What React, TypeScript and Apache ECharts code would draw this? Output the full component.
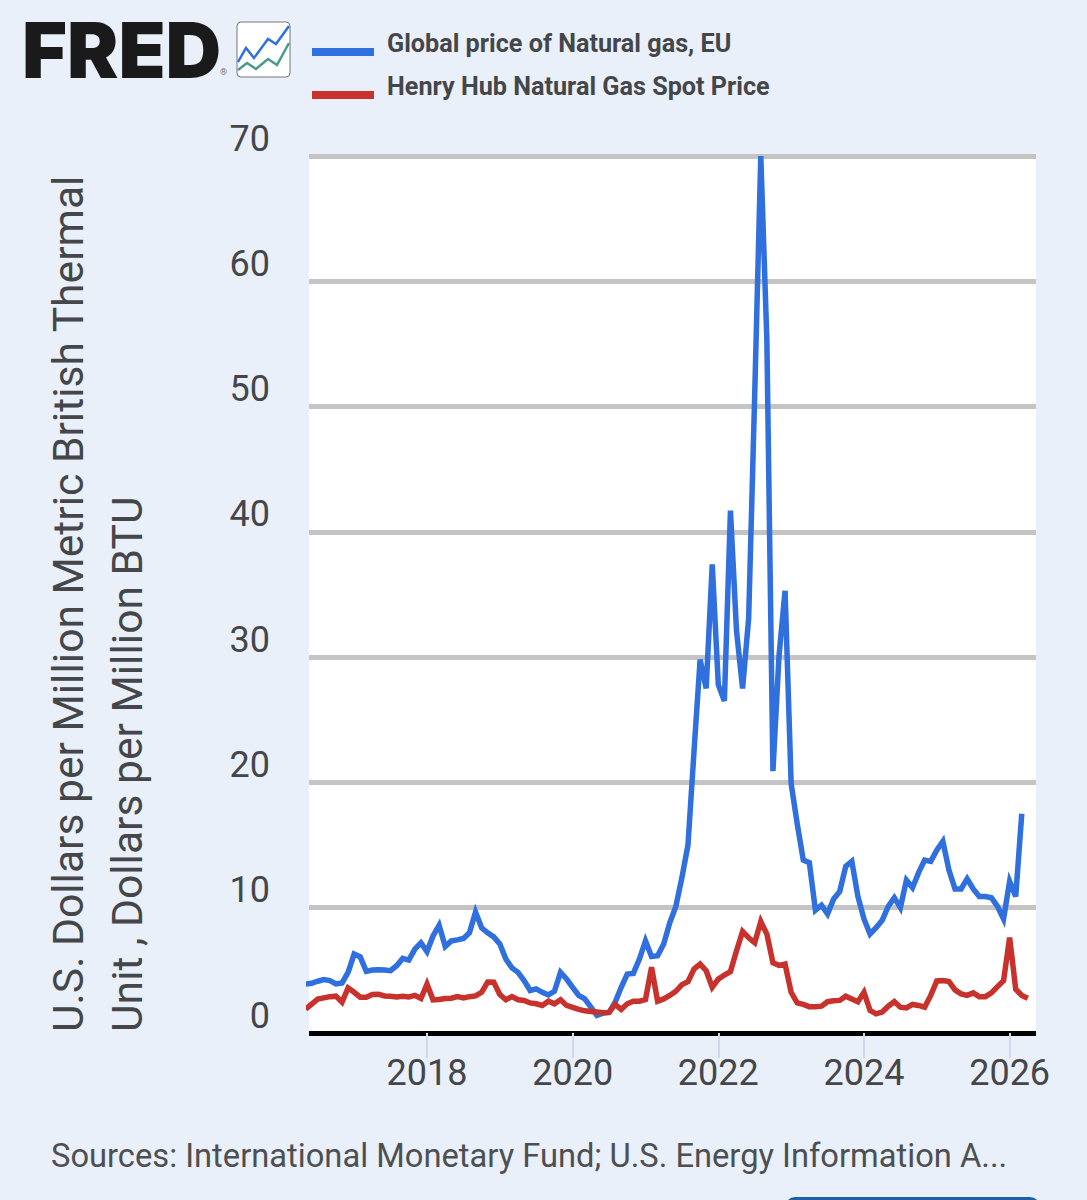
import React, { useEffect, useRef } from "react";
import * as echarts from "echarts";

const title = "FRED";
const blueName = "Global price of Natural gas, EU";
const redName = "Henry Hub Natural Gas Spot Price";
const yTitle1 = "U.S. Dollars per Million Metric British Thermal";
const yTitle2 = "Unit , Dollars per Million BTU";
const sourceText = "Sources: International Monetary Fund; U.S. Energy Information A...";
const tickYears = [2018, 2020, 2022, 2024, 2026];

// monthly values from May 2016
const blueValues = [
  3.9, 3.97, 4.13, 4.26, 4.18, 3.92, 4.0, 4.84,
  6.3, 6.08, 4.92, 5.03, 5.05, 5.03, 4.97, 5.37, 5.95, 5.82, 6.7, 7.2,
  6.5, 7.75, 8.6, 6.9, 7.35, 7.43, 7.54, 8.0, 9.65, 8.4, 8.0, 7.67,
  7.1, 5.9, 5.2, 4.84, 4.18, 3.39, 3.52, 3.25, 3.04, 3.33, 4.84, 4.31,
  3.65, 3.0, 2.72, 2.06, 1.4, 1.59, 1.64, 2.46, 3.65, 4.7, 4.76, 5.9,
  7.35, 6.1, 6.16, 7.1, 8.8, 10.1, 12.4, 15.0, 22.5, 29.8, 27.5, 37.4,
  27.8, 26.5, 41.7, 32.1, 27.5, 33.1, 51.0, 70.0, 55.3, 20.9, 30.1, 35.3,
  19.9, 16.7, 13.8, 13.6, 9.8, 10.2, 9.5, 10.7, 11.3, 13.3, 13.7, 10.9,
  9.1, 7.9, 8.4, 9.0, 10.1, 10.8, 10.0, 12.2, 11.6, 12.8, 13.8, 13.7,
  14.6, 15.3, 13.0, 11.5, 11.5, 12.3, 11.5, 10.9, 10.9, 10.8, 10.1, 9.1,
  12.1, 10.9, 17.5,
];
const redValues = [
  1.9, 2.3, 2.7, 2.8, 2.9, 2.94, 2.46, 3.6,
  3.25, 2.86, 2.86, 3.07, 3.1, 2.96, 2.94, 2.88, 2.94, 2.88, 3.0, 2.75,
  3.9, 2.65, 2.67, 2.75, 2.78, 2.9, 2.8, 2.9, 2.96, 3.25, 4.07, 4.05,
  3.07, 2.65, 2.9, 2.65, 2.6, 2.4, 2.33, 2.2, 2.54, 2.33, 2.65, 2.2,
  2.04, 1.88, 1.77, 1.72, 1.67, 1.61, 1.64, 2.28, 1.88, 2.33, 2.54, 2.54,
  2.67, 5.24, 2.54, 2.72, 3.0, 3.33, 3.86, 4.1, 5.1, 5.5, 4.97, 3.65,
  4.3, 4.63, 4.9, 6.56, 8.1, 7.6, 7.2, 8.9, 7.9, 5.6, 5.4, 5.5,
  3.25, 2.4, 2.28, 2.1, 2.1, 2.14, 2.5, 2.57, 2.6, 2.94, 2.72, 2.5,
  3.25, 1.8, 1.53, 1.67, 2.14, 2.5, 2.06, 2.0, 2.28, 2.2, 2.06, 3.0,
  4.15, 4.18, 4.1, 3.44, 3.12, 3.0, 3.2, 2.9, 2.9, 3.2, 3.7, 4.18,
  7.62, 3.5, 3.0, 2.78,
];

const startYear = 2016;
const startMonth = 4; // May
const toSeries = (values: number[]) =>
  values.map((v, i) => [startYear + (startMonth + i) / 12, v]);

const TEXT = "#444649";
const BLUE = "#2f6fde";
const RED = "#c8322d";
const LEGEND_ICON = "path://M0,0h62v0.01h-62z M0,18h62v8h-62z";

export default function App() {
  const ref = useRef<HTMLDivElement>(null);
  useEffect(() => {
    const chart = echarts.init(ref.current!, undefined, { renderer: "svg" });
    chart.setOption({
      animation: false,
      backgroundColor: "#e9f0f9",
      textStyle: { fontFamily: "Roboto" },
      legend: {
        orient: "vertical",
        left: 307,
        top: 25,
        itemWidth: 62,
        itemHeight: 26,
        itemGap: 17,
        icon: LEGEND_ICON,
        selectedMode: false,
        data: [blueName, redName],
        textStyle: {
          color: TEXT,
          fontFamily: "Roboto",
          fontWeight: 700,
          fontSize: 25.2,
          padding: [0, 0, 0, 8],
        },
      },
      grid: {
        show: true,
        backgroundColor: "#ffffff",
        borderWidth: 0,
        left: 309,
        width: 727,
        top: 156,
        height: 877,
      },
      xAxis: {
        type: "value",
        min: 2016.38,
        max: 2026.362,
        splitLine: { show: false },
        axisLine: { show: true, onZero: false, lineStyle: { color: "#000000", width: 5, cap: "butt" } },
        axisTick: {
          show: true,
          customValues: tickYears,
          length: 25,
          lineStyle: { color: "#d0d9e8", width: 2 },
        },
        axisLabel: {
          customValues: tickYears,
          hideOverlap: false,
          margin: 22,
          fontSize: 36,
          color: TEXT,
          fontFamily: "Roboto",
          formatter: (v: number) => String(v),
        },
      },
      yAxis: {
        type: "value",
        min: 0,
        max: 70,
        interval: 10,
        axisLine: { show: false },
        axisTick: { show: false },
        splitLine: { show: true, lineStyle: { color: "#c4c4c4", width: 5 } },
        axisLabel: {
          margin: 39,
          fontSize: 36,
          lineHeight: 35,
          color: TEXT,
          fontFamily: "Roboto",
          verticalAlign: "bottom",
          formatter: (v: number) => String(v),
        },
      },
      series: [
        {
          name: blueName,
          type: "line",
          data: toSeries(blueValues),
          showSymbol: false,
          symbol: "none",
          itemStyle: { color: BLUE },
          lineStyle: { color: BLUE, width: 5.5, join: "miter", miterLimit: 4, cap: "butt" },
        },
        {
          name: redName,
          type: "line",
          data: toSeries(redValues),
          showSymbol: false,
          symbol: "none",
          itemStyle: { color: RED },
          lineStyle: { color: RED, width: 5.5, join: "miter", miterLimit: 4, cap: "butt" },
        },
      ],
      graphic: [
        {
          type: "text",
          x: 22,
          y: 50,
          style: {
            text: title,
            font: "900 77px Inter",
            fill: "#1a1a1a",
            textVerticalAlign: "middle",
          },
        },
        {
          type: "text",
          x: 220,
          y: 72,
          style: { text: "®", font: "9px Roboto", fill: "#777777", textVerticalAlign: "middle" },
        },
        {
          type: "rect",
          shape: { x: 237, y: 22, width: 53, height: 55, r: 4 },
          style: { fill: "#ffffff", stroke: "#777777", lineWidth: 1 },
        },
        {
          type: "polyline",
          shape: { points: [[238, 62], [246, 48], [254, 58], [268, 39], [276, 44], [289, 26]] },
          style: { stroke: "#2f6fde", lineWidth: 2.5, fill: "none" },
        },
        {
          type: "polyline",
          shape: { points: [[238, 70], [247, 63], [256, 69], [268, 59], [277, 65], [289, 43]] },
          style: { stroke: "#4a9a8a", lineWidth: 2.5, fill: "none" },
        },
        {
          type: "text",
          x: 68,
          y: 1032,
          rotation: Math.PI / 2,
          style: { text: yTitle1, font: "42.6px Roboto", fill: TEXT, textAlign: "left", textVerticalAlign: "middle" },
        },
        {
          type: "text",
          x: 127,
          y: 1032,
          rotation: Math.PI / 2,
          style: { text: yTitle2, font: "42.6px Roboto", fill: TEXT, textAlign: "left", textVerticalAlign: "middle" },
        },
        {
          type: "text",
          x: 51,
          y: 1156,
          style: { text: sourceText, font: "32.7px Roboto", fill: "#4d4f52", textVerticalAlign: "middle" },
        },
        {
          type: "rect",
          shape: { x: 785, y: 1197, width: 255, height: 24, r: 10 },
          style: { fill: "#1f5fa8" },
        },
      ],
    });
    return () => chart.dispose();
  }, []);
  return <div ref={ref} style={{ position: "absolute", left: 0, top: 0, width: 1087, height: 1200 }} />;
}
